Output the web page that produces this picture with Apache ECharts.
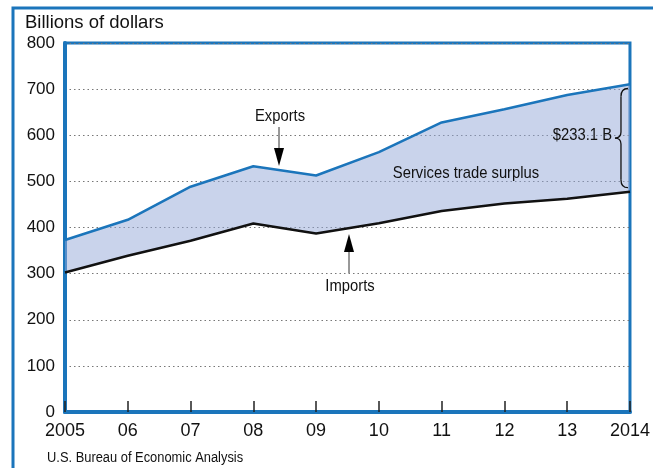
<!DOCTYPE html>
<html>
<head>
<meta charset="utf-8">
<script src="https://cdn.jsdelivr.net/npm/echarts@6/dist/echarts.min.js"></script>
<style>
  html, body { margin: 0; padding: 0; background: #fff; }
  #chart { width: 653px; height: 468px; }
</style>
</head>
<body>
<div id="chart"></div>
<script>
// 数据
const years = ['2005', '2006', '2007', '2008', '2009', '2010', '2011', '2012', '2013', '2014'];
const yearLabels = ['2005', '06', '07', '08', '09', '10', '11', '12', '13', '2014'];
const exportsData = [373.0, 416.7, 488.4, 532.8, 512.7, 563.3, 627.8, 656.4, 687.4, 710.4];
const importsData = [302.6, 338.7, 371.3, 408.8, 386.8, 409.3, 435.8, 452.0, 462.1, 477.3];
const yTicks = [0, 100, 200, 300, 400, 500, 600, 700, 800];

const BLUE = '#1b75bb';
const FONT = '"Liberation Sans", Arial, sans-serif';

// 差值用于堆叠面积
const surplus = exportsData.map(function (v, i) {
    return +(v - importsData[i]).toFixed(1);
});

let chart = echarts.init(document.getElementById('chart'));

let options = {
    animation: false,
    grid: {
        left: 65, top: 43, right: 20, bottom: 56,
        show: true,
        borderColor: BLUE,
        borderWidth: 3,
        backgroundColor: 'transparent'
    },
    xAxis: {
        type: 'category',
        data: years,
        boundaryGap: false,
        axisLine: {show: true, lineStyle: {color: BLUE, width: 4}},
        axisTick: {show: true, inside: true, length: 11, lineStyle: {color: '#222', width: 1.5}},
        axisLabel: {
            margin: 10,
            color: '#111',
            fontFamily: FONT,
            fontSize: 18,
            formatter: function (v, i) { return yearLabels[i]; }
        },
        splitLine: {show: false}
    },
    yAxis: {
        type: 'value',
        min: yTicks[0],
        max: yTicks[yTicks.length - 1],
        interval: 100,
        axisLine: {show: true, lineStyle: {color: BLUE, width: 4}},
        axisTick: {show: false},
        axisLabel: {margin: 10, color: '#111', fontFamily: FONT, fontSize: 17},
        splitLine: {lineStyle: {color: '#777', type: [1.5, 3], width: 1}}
    },
    series: [
        {
            name: 'Imports',
            type: 'line',
            stack: 'trade',
            data: importsData,
            symbol: 'none',
            z: 4,
            lineStyle: {color: '#111', width: 2.5}
        },
        {
            name: 'Surplus',
            type: 'line',
            stack: 'trade',
            data: surplus,
            symbol: 'none',
            z: 3,
            lineStyle: {color: BLUE, width: 2.5},
            areaStyle: {color: '#93a8d8', opacity: 0.5}
        }
    ]
};

chart.setOption(options);

// 窄字体：横向压缩
function narrowText(x, y, text, size, align, sx) {
    return {
        type: 'text', x: x, y: y, z: 10, scaleX: sx || 0.87,
        style: {text: text, font: size + 'px ' + FONT, fill: '#111', align: align, verticalAlign: 'middle'}
    };
}

// 注释 — 大括号位置来自2014年数据
let p14top = chart.convertToPixel({gridIndex: 0}, [years[9], exportsData[9] - 9]);
let p14bot = chart.convertToPixel({gridIndex: 0}, [years[9], importsData[9] + 9]);
let bx = p14top[0] - 2;
let t = p14top[1], b = p14bot[1];
let midY = (t + b) / 2;
let cx = bx - 7;
let braceStyle = {fill: 'none', stroke: '#111', lineWidth: 1.3};

chart.setOption({
    graphic: [
        {type: 'rect', z: 20, shape: {x: 13, y: 8, width: 700, height: 520},
            style: {fill: 'none', stroke: BLUE, lineWidth: 3}},
        {type: 'text', x: 25, y: 23, z: 20,
            style: {text: 'Billions of dollars', font: '18.5px ' + FONT, fill: '#111', verticalAlign: 'middle'}},
        narrowText(47, 458, 'U.S. Bureau of Economic Analysis', 14, 'left', 0.92),
        // Exports
        narrowText(280, 116, 'Exports', 17, 'center'),
        {type: 'line', z: 10, shape: {x1: 279, y1: 127, x2: 279, y2: 150}, style: {stroke: '#333', lineWidth: 1}},
        {type: 'polygon', z: 10, shape: {points: [[274, 148], [284, 148], [279, 166]]}, style: {fill: '#000'}},
        // Imports
        narrowText(350, 286, 'Imports', 17, 'center'),
        {type: 'line', z: 10, shape: {x1: 349, y1: 273, x2: 349, y2: 250}, style: {stroke: '#333', lineWidth: 1}},
        {type: 'polygon', z: 10, shape: {points: [[344, 252], [354, 252], [349, 234]]}, style: {fill: '#000'}},
        // Surplus
        narrowText(466, 173, 'Services trade surplus', 17, 'center'),
        narrowText(612, 135, '$233.1 B', 17, 'right'),
        // 大括号
        {type: 'bezierCurve', z: 10, shape: {x1: bx, y1: t, cpx1: cx, cpy1: t, x2: cx, y2: t + 8}, style: braceStyle},
        {type: 'line', z: 10, shape: {x1: cx, y1: t + 8, x2: cx, y2: midY - 6}, style: braceStyle},
        {type: 'bezierCurve', z: 10, shape: {x1: cx, y1: midY - 6, cpx1: cx, cpy1: midY, x2: cx - 6, y2: midY}, style: braceStyle},
        {type: 'bezierCurve', z: 10, shape: {x1: cx - 6, y1: midY, cpx1: cx, cpy1: midY, x2: cx, y2: midY + 6}, style: braceStyle},
        {type: 'line', z: 10, shape: {x1: cx, y1: midY + 6, x2: cx, y2: b - 8}, style: braceStyle},
        {type: 'bezierCurve', z: 10, shape: {x1: cx, y1: b - 8, cpx1: cx, cpy1: b, x2: bx, y2: b}, style: braceStyle}
    ]
});
</script>
</body>
</html>
